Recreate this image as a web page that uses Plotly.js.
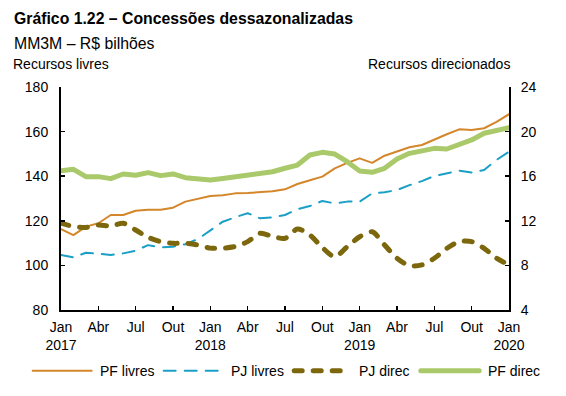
<!DOCTYPE html>
<html>
<head>
<meta charset="utf-8">
<script src="https://cdn.plot.ly/plotly-3.0.1.min.js"></script>
<style>
html,body{margin:0;padding:0;background:#fff;}
#chart{width:566px;height:396px;}
.scatterlayer .trace path.js-line{stroke-linecap:round;stroke-linejoin:round;}
.shapelayer path{stroke-linecap:round;}
</style>
</head>
<body>
<div id="chart"></div>
<script>
var months = ["2017-01","2017-02","2017-03","2017-04","2017-05","2017-06","2017-07","2017-08","2017-09","2017-10","2017-11","2017-12",
"2018-01","2018-02","2018-03","2018-04","2018-05","2018-06","2018-07","2018-08","2018-09","2018-10","2018-11","2018-12",
"2019-01","2019-02","2019-03","2019-04","2019-05","2019-06","2019-07","2019-08","2019-09","2019-10","2019-11","2019-12","2020-01"];

var pfLivres = [116.2,113.6,117.4,118.9,122.6,122.6,124.5,125.0,125.0,125.9,128.6,129.8,
131.1,131.5,132.3,132.5,132.8,133.2,134.1,136.5,138.2,139.8,143.5,146.0,
148.0,146.0,149.2,151.0,153.0,154.0,156.5,158.8,161.0,160.7,161.5,164.4,167.8];

var pjLivres = [104.7,103.6,105.7,105.1,104.7,105.4,106.6,109.1,108.1,108.4,109.5,111.8,
115.5,119.6,121.6,123.4,121.1,121.6,122.6,125.2,126.6,128.9,127.8,128.6,
128.6,132.3,132.8,133.8,136.0,137.8,140.1,141.3,142.5,141.7,142.8,147.3,151.0];

var pjDirec = [11.78,11.50,11.41,11.62,11.53,11.78,11.17,10.52,10.13,9.98,9.98,9.83,
9.55,9.55,9.70,10.13,10.88,10.60,10.43,11.26,10.73,9.60,8.78,9.68,
10.57,11.02,9.83,8.64,7.98,8.04,8.64,9.53,10.13,10.13,9.53,8.64,8.04];

var pfDirec = [16.49,16.62,15.96,15.96,15.78,16.20,16.08,16.32,16.05,16.20,15.87,15.72,
15.66,15.80,15.96,16.11,16.32,16.40,16.71,17.00,17.90,18.14,17.99,17.30,
16.47,16.35,16.71,17.54,18.05,18.26,18.50,18.44,18.80,19.25,19.85,20.14,20.35];

var tickMonths = ["2017-01","2017-04","2017-07","2017-10","2018-01","2018-04","2018-07","2018-10","2019-01","2019-04","2019-07","2019-10","2020-01"];
var tickLabels = ["Jan<br>2017","Abr","Jul","Out","Jan<br>2018","Abr","Jul","Out","Jan<br>2019","Abr","Jul","Out","Jan<br>2020"];

var seriesNames = ["PF livres","PJ livres","PJ direc","PF direc"];
var seriesColors = ["#D4862A","#1A9FC6","#7C670C","#AAC96B"];

var FONT = "Liberation Sans, Arial, sans-serif";

var styles = [
  {color: seriesColors[0], width: 2},
  {color: seriesColors[1], width: 2, dash: "12px,9px"},
  {color: seriesColors[2], width: 5, dash: "8px,11px", shape: "spline", smoothing: 0.8},
  {color: seriesColors[3], width: 5}
];
var values = [pfLivres, pjLivres, pjDirec, pfDirec];
var axes = ["y", "y", "y2", "y2"];

var traces = values.map(function (v, i) {
  return {x: months, y: v, name: seriesNames[i], type: "scatter", mode: "lines",
          yaxis: axes[i], line: styles[i], showlegend: false};
});

// page pixel -> paper coordinates (plot area: x 61..509, y 87..310)
function px(x) { return (x - 61) / 448; }
function py(y) { return (310 - y) / 223; }

// legend built from shapes + text (sample line start/end, text start)
var legY = 370.7;
var legItems = [
  {x0: 32.7, x1: 91.7, tx: 97.5},
  {x0: 163.7, x1: 222.3, tx: 228.5},
  {x0: 294.2, x1: 349.2, tx: 356.5},
  {x0: 420.8, x1: 479.2, tx: 485.5}
];
var shapes = [], annotations = [];
legItems.forEach(function (it, i) {
  var st = styles[i];
  shapes.push({type: "line", xref: "paper", yref: "paper",
    x0: px(it.x0), x1: px(it.x1), y0: py(legY), y1: py(legY),
    line: {color: st.color, width: st.width, dash: st.dash || "solid"}});
  annotations.push({text: seriesNames[i], xref: "paper", yref: "paper",
    x: px(it.tx), y: py(legY), xanchor: "left", yanchor: "middle", showarrow: false,
    font: {family: FONT, size: 14, color: "#000"}});
});

annotations.push(
  {text: "<b>Gráfico 1.22 – Concessões dessazonalizadas</b>", xref: "paper", yref: "paper",
   x: px(12), y: py(18.5), xanchor: "left", yanchor: "middle", showarrow: false,
   font: {family: FONT, size: 15.8, color: "#000"}},
  {text: "MM3M – R$ bilhões", xref: "paper", yref: "paper",
   x: px(12), y: py(43), xanchor: "left", yanchor: "middle", showarrow: false,
   font: {family: FONT, size: 15.8, color: "#000"}},
  {text: "Recursos livres", xref: "paper", yref: "paper",
   x: px(11), y: py(64), xanchor: "left", yanchor: "middle", showarrow: false,
   font: {family: FONT, size: 14, color: "#000"}},
  {text: "Recursos direcionados", xref: "paper", yref: "paper",
   x: px(512), y: py(64), xanchor: "right", yanchor: "middle", showarrow: false,
   font: {family: FONT, size: 14, color: "#000"}}
);

var axisCommon = {
  ticks: "inside", ticklen: 4, tickwidth: 1.5, tickcolor: "#000",
  showline: true, linecolor: "#000", linewidth: 2, showgrid: false, zeroline: false,
  tickfont: {family: FONT, size: 14, color: "#000"}
};

var layout = {
  width: 566, height: 396,
  margin: {l: 61, r: 57, t: 87, b: 86},
  paper_bgcolor: "#ffffff", plot_bgcolor: "rgba(0,0,0,0)",
  font: {family: FONT, size: 14, color: "#000"},
  showlegend: false,
  xaxis: Object.assign({type: "category", categoryorder: "array", categoryarray: months,
          range: [0, months.length - 1],
          tickmode: "array", tickvals: tickMonths, ticktext: tickLabels,
          ticklabelstandoff: 3}, axisCommon),
  yaxis: Object.assign({range: [80, 180], tickmode: "linear", tick0: 80, dtick: 20,
          ticklabelstandoff: 8}, axisCommon),
  yaxis2: Object.assign({range: [4, 24], tickmode: "linear", tick0: 4, dtick: 4,
          overlaying: "y", side: "right", ticklabelstandoff: 7}, axisCommon),
  shapes: shapes,
  annotations: annotations
};

Plotly.newPlot("chart", traces, layout, {staticPlot: true, displayModeBar: false});
</script>
</body>
</html>
